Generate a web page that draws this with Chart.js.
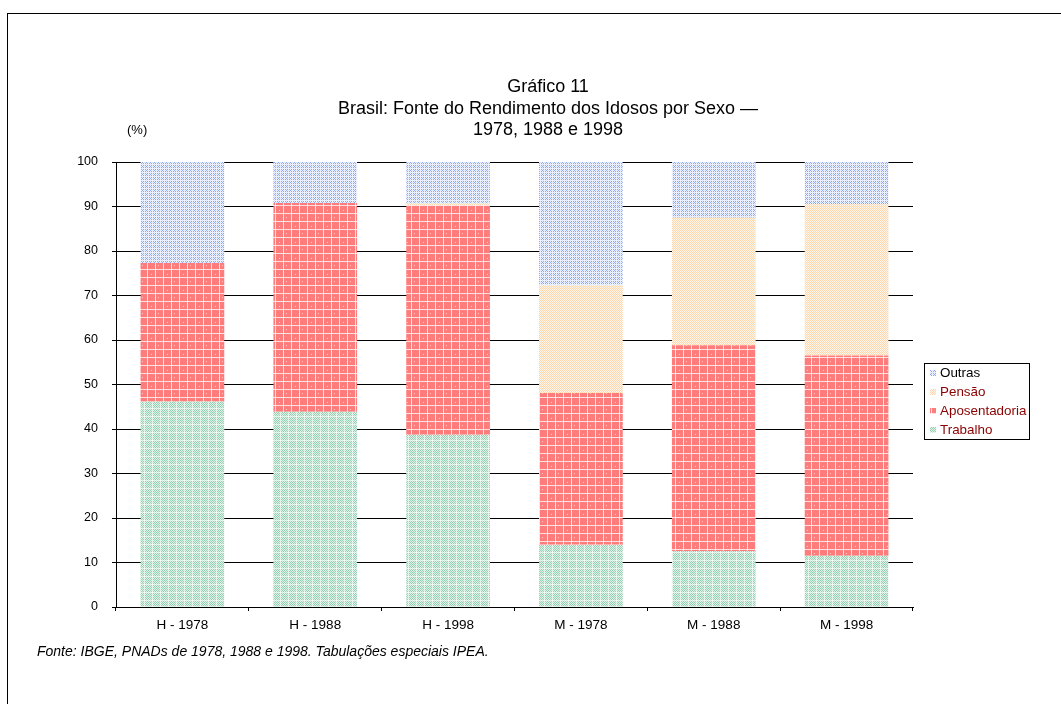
<!DOCTYPE html>
<html>
<head>
<meta charset="utf-8">
<script src="https://cdn.jsdelivr.net/npm/chart.js@4.4.1/dist/chart.umd.min.js"></script>
<style>
  html, body { margin: 0; padding: 0; background: #fff; }
  #wrap { position: relative; width: 1061px; height: 704px; overflow: hidden; font-family: "Liberation Sans", Arial, sans-serif; }
  #frame { position: absolute; left: 7px; top: 13px; width: 2000px; height: 2000px; border-left: 1px solid #000; border-top: 1px solid #000; }
  #chart { position: absolute; left: 0; top: 0; }
  .title { position: absolute; left: 298px; width: 500px; text-align: center; font-size: 18px; color: #000; line-height: 21.5px; }
  #unit { position: absolute; left: 127px; top: 122px; font-size: 13px; }
  #note { position: absolute; left: 37px; top: 643px; font-size: 14px; font-style: italic; }
</style>
</head>
<body>
<div id="wrap">
  <div id="frame"></div>
  <canvas id="chart" width="1061" height="704"></canvas>
  <div class="title" style="top:76px">Gráfico 11<br>Brasil: Fonte do Rendimento dos Idosos por Sexo —<br>1978, 1988 e 1998</div>
  <div id="unit">(%)</div>
  <div id="note">Fonte: IBGE, PNADs de 1978, 1988 e 1998. Tabulações especiais IPEA.</div>
</div>
<script>
const categories = ["H - 1978", "H - 1988", "H - 1998", "M - 1978", "M - 1988", "M - 1998"];
const trabalho      = [46.2, 43.9, 38.7, 14.0, 12.6, 11.5];
const aposentadoria = [31.1, 46.9, 51.5, 34.1, 46.2, 45.0];
const pensao        = [0.0, 0.0, 0.6, 24.2, 28.7, 34.0];
const outras        = [22.7, 9.2, 9.2, 27.7, 12.5, 9.5];
const yTicks = [0, 10, 20, 30, 40, 50, 60, 70, 80, 90, 100];

function makePattern(size, base, dot, lineColor, lineEvery) {
  const c = document.createElement('canvas');
  c.width = size; c.height = size;
  const g = c.getContext('2d');
  g.fillStyle = base; g.fillRect(0, 0, size, size);
  g.fillStyle = dot;
  for (let y = 0; y < size; y++) {
    for (let x = 0; x < size; x++) {
      if ((x + y) % 2 === 0) g.fillRect(x, y, 1, 1);
    }
  }
  if (lineColor) {
    g.fillStyle = lineColor;
    for (let k = 0; k < size; k += lineEvery) {
      g.fillRect(k, 0, 1, size);
      g.fillRect(0, k, size, 1);
    }
  }
  return g.createPattern(c, 'repeat');
}
function makeRed() {
  const c = document.createElement('canvas');
  c.width = 16; c.height = 16;
  const g = c.getContext('2d');
  g.fillStyle = '#ff7c7c'; g.fillRect(0, 0, 16, 16);
  g.fillStyle = 'rgba(255,255,255,0.75)';
  g.fillRect(3, 0, 1, 16); g.fillRect(11, 0, 1, 16);
  g.fillRect(0, 5, 16, 1); g.fillRect(0, 13, 16, 1);
  g.fillStyle = 'rgba(255,220,220,0.8)';
  g.fillRect(7, 2, 1, 1); g.fillRect(14, 9, 1, 1);
  return g.createPattern(c, 'repeat');
}

const pTrab = makePattern(8, '#e0f1e8', '#94d1b3', 'rgba(255,255,255,0.6)', 8);
const pApos = makeRed();
const pPens = makePattern(8, '#fff6ec', '#ffd6ad', null, 8);
const pOutr = makePattern(8, '#edf1fd', '#8fa8f4', 'rgba(240,244,254,0.8)', 4);

const legendItems = [
  { label: 'Outras', fill: pOutr, color: '#000000' },
  { label: 'Pensão', fill: pPens, color: '#8b0000' },
  { label: 'Aposentadoria', fill: pApos, color: '#8b0000' },
  { label: 'Trabalho', fill: pTrab, color: '#8b0000' }
];

const customLegend = {
  id: 'customLegend',
  afterDraw(chart) {
    const ctx = chart.ctx;
    ctx.save();
    ctx.strokeStyle = '#000'; ctx.lineWidth = 1;
    ctx.strokeRect(924.5, 363.5, 105, 76);
    ctx.font = '13.4px "Liberation Sans", Arial, sans-serif';
    ctx.textBaseline = 'middle';
    legendItems.forEach((it, i) => {
      const cy = 373 + i * 19;
      ctx.fillStyle = it.fill;
      ctx.fillRect(930, cy - 3, 6, 6);
      ctx.fillStyle = it.color;
      ctx.fillText(it.label, 940, cy + 0.5);
    });
    ctx.restore();
  }
};

new Chart(document.getElementById('chart'), {
  type: 'bar',
  data: {
    labels: categories,
    datasets: [
      { label: 'Trabalho', data: trabalho, backgroundColor: pTrab },
      { label: 'Aposentadoria', data: aposentadoria, backgroundColor: pApos },
      { label: 'Pensão', data: pensao, backgroundColor: pPens },
      { label: 'Outras', data: outras, backgroundColor: pOutr }
    ]
  },
  options: {
    responsive: false,
    animation: false,
    devicePixelRatio: 1,
    layout: { padding: { left: 0, top: 162, right: 148, bottom: 0 } },
    datasets: { bar: { barPercentage: 0.63, categoryPercentage: 1.0, borderWidth: 0 } },
    plugins: { legend: { display: false }, tooltip: { enabled: false }, title: { display: false } },
    scales: {
      x: {
        stacked: true,
        afterFit: (s) => { s.height = 97; },
        grid: { offset: true, drawOnChartArea: false, drawTicks: true, tickLength: 4, color: '#000' },
        border: { color: '#000', width: 1 },
        ticks: { color: '#000', font: { family: '"Liberation Sans", Arial, sans-serif', size: 13.5 }, padding: 6 }
      },
      y: {
        stacked: true,
        min: 0, max: 100,
        afterFit: (s) => { s.width = 116; },
        afterBuildTicks: (s) => { s.ticks = yTicks.map(v => ({ value: v })); },
        grid: { color: '#000', lineWidth: 1, drawTicks: true, tickLength: 4 },
        border: { color: '#000', width: 1 },
        ticks: { color: '#000', font: { family: '"Liberation Sans", Arial, sans-serif', size: 12.5 }, padding: 14 }
      }
    }
  },
  plugins: [customLegend]
});
</script>
</body>
</html>
